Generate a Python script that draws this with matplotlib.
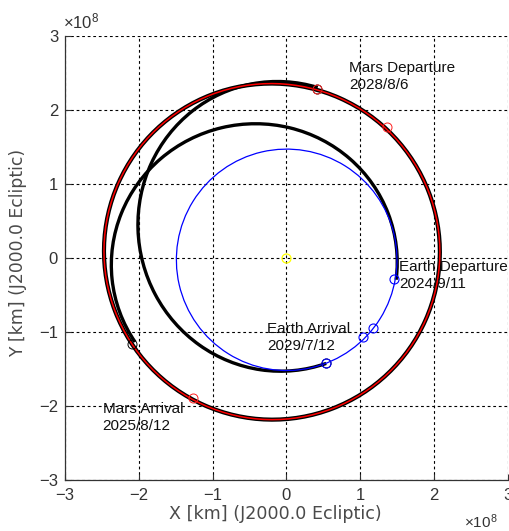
import numpy as np
import matplotlib
matplotlib.use("Agg")
import matplotlib.pyplot as plt
from matplotlib.patches import Arc, Ellipse

plt.rcParams['font.family'] = ['Liberation Sans', 'DejaVu Sans']
plt.rcParams['mathtext.fontset'] = 'custom'
plt.rcParams['mathtext.rm'] = 'Liberation Sans'

# distances in 1e8 km (J2000.0 ecliptic), angles in degrees
# orbit elements: semi-major axis, eccentricity, longitude of perihelion
earth_orbit = (1.496, 0.0167, 103.0)
mars_orbit = (2.279, 0.0934, 336.0)
outbound_orbit = (1.94, 0.227, 10.0)    # Earth -> Mars
return_orbit = (1.96, 0.224, 283.0)     # Mars -> Earth

# event positions
earth_dep = (1.46, -0.29)
mars_arr = (-2.09, -1.16)
mars_dep = (0.42, 2.28)
earth_arr = (0.54, -1.42)

earth_pos_x = [1.46, 1.17, 1.04, 0.54]
earth_pos_y = [-0.29, -0.95, -1.07, -1.42]
mars_pos_x = [0.42, 1.37, -1.26]
mars_pos_y = [2.28, 1.77, -1.89]
craft_pos_x = [-2.09, 0.42, 0.54]
craft_pos_y = [-1.16, 2.28, -1.42]
sun_pos = (0.0, 0.0)

event_names = ["Earth Departure", "Mars Arrival", "Mars Departure", "Earth Arrival"]
event_dates = ["2024/9/11", "2025/8/12", "2028/8/6", "2029/7/12"]
# label anchors (top-left of text)
label_xy = [(1.53, -0.03), (-2.49, -1.95), (0.85, 2.66), (-0.26, -0.86)]

ticks = [-3, -2, -1, 0, 1, 2, 3]


def ellipse_geom(a, e, w):
    c = a * e
    center = (-c * np.cos(np.radians(w)), -c * np.sin(np.radians(w)))
    b = a * np.sqrt(1 - e ** 2)
    return center, 2 * a, 2 * b, w


def arc_angle(center, w, p):
    return (np.degrees(np.arctan2(p[1] - center[1], p[0] - center[0])) - w) % 360


fig = plt.figure(figsize=(5.10, 5.31), dpi=100)
ax = fig.add_axes([0.1275, 0.096, 0.8676, 0.8362])

# planet orbits
c, wd, ht, ang = ellipse_geom(*mars_orbit)
ax.add_patch(Ellipse(c, wd, ht, angle=ang, fill=False, ec='black', lw=3.0, zorder=3))
ax.add_patch(Ellipse(c, wd, ht, angle=ang, fill=False, ec='#ff0000', lw=1.1, zorder=5))

# transfer arcs
for orb, p0, p1 in [(outbound_orbit, earth_dep, mars_arr), (return_orbit, mars_dep, earth_arr)]:
    c, wd, ht, ang = ellipse_geom(*orb)
    t1 = arc_angle(c, ang, p0)
    t2 = arc_angle(c, ang, p1)
    ax.add_patch(Arc(c, wd, ht, angle=ang, theta1=t1, theta2=t2, ec='black', lw=2.4, zorder=3))

c, wd, ht, ang = ellipse_geom(*earth_orbit)
ax.add_patch(Ellipse(c, wd, ht, angle=ang, fill=False, ec='#0000ff', lw=0.9, zorder=4))

# positions
ms = 6.5
ax.plot(craft_pos_x, craft_pos_y, 'o', mfc='none', mec='black', ms=ms, mew=0.7, zorder=6)
ax.plot(mars_pos_x, mars_pos_y, 'o', mfc='none', mec='#ff2020', ms=ms, mew=0.7, zorder=6)
ax.plot(earth_pos_x, earth_pos_y, 'o', mfc='none', mec='#0000ff', ms=ms, mew=0.8, zorder=7)
ax.plot(sun_pos[0], sun_pos[1], 'o', mfc='none', mec='#ffff00', ms=ms, mew=0.9, zorder=6)

for name, date, (tx, ty) in zip(event_names, event_dates, label_xy):
    ax.text(tx, ty, name + "\n" + date, fontsize=11, ha='left', va='top',
            color='#111111', linespacing=1.28, zorder=8)

ax.set_xlim(-3, 3)
ax.set_ylim(-3, 3)
ax.set_xticks(ticks)
ax.set_yticks(ticks)
ax.grid(True, color='black', linestyle=(0, (2.5, 2.5)), linewidth=0.8)
ax.set_axisbelow(True)
ax.spines['top'].set_visible(False)
ax.spines['right'].set_visible(False)
for s in ['left', 'bottom']:
    ax.spines[s].set_color('#333333')
    ax.spines[s].set_linewidth(0.9)
ax.tick_params(direction='in', length=4, width=0.8, colors='#333333',
               labelsize=12, pad=6)
ax.tick_params(axis='y', pad=5)

fig.text(275 / 510, 1 - 514 / 531, "X [km] (J2000.0 Ecliptic)", ha='center', va='center',
         fontsize=12.6, color='#4a4a4a', family='DejaVu Sans')
fig.text(18 / 510, 1 - 253 / 531, "Y [km] (J2000.0 Ecliptic)", ha='center', va='center',
         rotation=90, fontsize=12.4, color='#4a4a4a', family='DejaVu Sans')
fig.text(63 / 510, 1 - 28 / 531, r'$\mathregular{\times10^{8}}$', ha='left', va='baseline',
         fontsize=12, color='#333333')
fig.text(464 / 510, 1 - 528 / 531, r'$\mathregular{\times10^{8}}$', ha='left', va='baseline',
         fontsize=11, color='#333333')

fig.savefig("out.png", dpi=100)
